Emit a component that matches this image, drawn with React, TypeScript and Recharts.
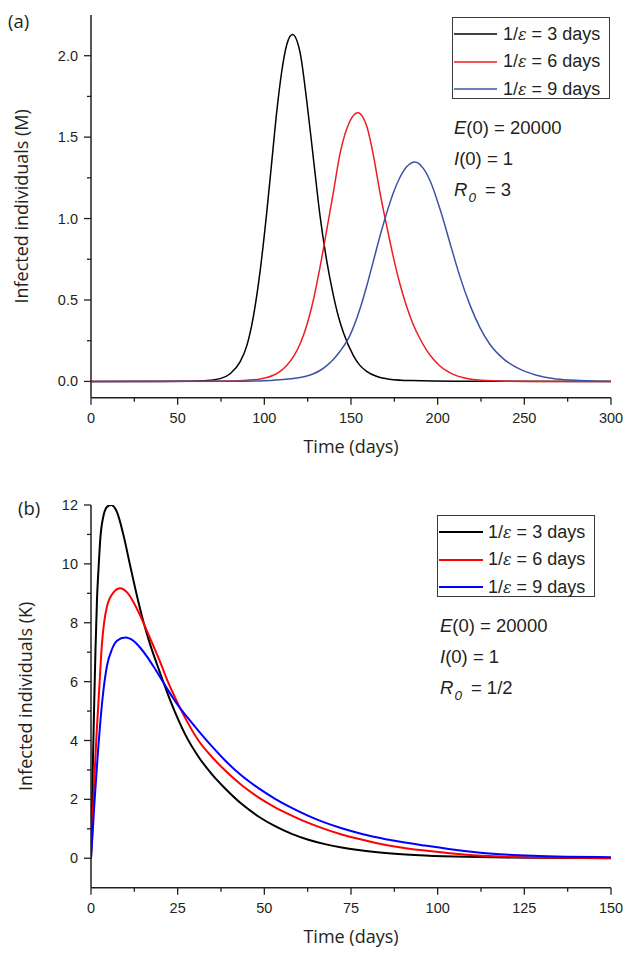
import { LineChart, Line, XAxis, YAxis } from 'recharts';

type Pt = [number, number];

// latent period 1/ε (days) for the three curves
const epsDays = [3, 6, 9];

// ---- panel (a): R0 = 3, infected in millions ----
const aXTicks = [0, 25, 50, 75, 100, 125, 150, 175, 200, 225, 250, 275, 300];
const aXMajor = [0, 50, 100, 150, 200, 250, 300];
const aYTicks = [0, 0.25, 0.5, 0.75, 1, 1.25, 1.5, 1.75, 2];
const aYMajor = [0, 0.5, 1, 1.5, 2];

const aEps3: Pt[] = [
  [0, 0], [40, 0], [55, 0.001], [62, 0.003], [67, 0.005], [74.5, 0.017], [80.3, 0.047],
  [86, 0.12], [89.9, 0.22], [93.7, 0.4], [97.6, 0.68], [101.4, 1.04], [104.3, 1.35],
  [107.2, 1.66], [110, 1.9], [113, 2.07], [116.2, 2.13], [120.6, 2.02], [124.5, 1.72],
  [128.3, 1.37], [132.1, 1.02], [136, 0.74], [139.8, 0.53], [142.7, 0.4], [145.6, 0.3],
  [151.3, 0.16], [155, 0.1], [159, 0.062], [165, 0.03], [172, 0.014], [185, 0.005],
  [210, 0.001], [300, 0],
];
const aEps6: Pt[] = [
  [0, 0], [60, 0.001], [80, 0.003], [90, 0.007], [97.6, 0.015], [101.4, 0.024], [105.2, 0.038],
  [109.1, 0.062], [112.9, 0.098], [116.8, 0.152], [120.6, 0.23], [124.5, 0.345], [128.3, 0.5],
  [132.1, 0.7], [136, 0.93], [139.8, 1.16], [143.7, 1.4], [147.5, 1.55], [150.5, 1.62],
  [153.9, 1.65], [157, 1.62], [159, 1.57], [162.9, 1.39], [166.7, 1.16], [170.6, 0.955],
  [174.4, 0.765], [178.2, 0.6], [182.1, 0.46], [185.9, 0.35], [189.8, 0.262], [193.6, 0.192],
  [197.4, 0.137], [201.3, 0.095], [205, 0.066], [209, 0.043], [215, 0.022], [225, 0.007],
  [240, 0.0015], [260, 0], [300, 0],
];
const aEps9: Pt[] = [
  [0, 0], [80, 0.001], [100, 0.004], [109.1, 0.01], [115, 0.016], [120.6, 0.024], [124.5, 0.033],
  [128.3, 0.047], [132.1, 0.067], [136, 0.097], [139.8, 0.135], [143.7, 0.185], [149.4, 0.283],
  [155.1, 0.443], [159, 0.583], [162.9, 0.739], [166.7, 0.891], [170.6, 1.035], [174.4, 1.157],
  [178.2, 1.252], [182.1, 1.318], [186.9, 1.348], [191.6, 1.31], [195.5, 1.235], [201.3, 1.06],
  [207.9, 0.82], [212.8, 0.645], [218.6, 0.47], [224.4, 0.33], [230.1, 0.228], [237.8, 0.14],
  [247.4, 0.075], [257, 0.038], [266.6, 0.018], [276.2, 0.008], [290, 0.002], [300, 0.001],
];

// ---- panel (b): R0 = 1/2, infected in thousands ----
const bXTicks = [0, 12.5, 25, 37.5, 50, 62.5, 75, 87.5, 100, 112.5, 125, 137.5, 150];
const bXMajor = [0, 25, 50, 75, 100, 125, 150];
const bYTicks = [0, 1, 2, 3, 4, 5, 6, 7, 8, 9, 10, 11, 12];
const bYMajor = [0, 2, 4, 6, 8, 10, 12];

const bEps3: Pt[] = [
  [0, 0], [0.5, 3.0], [0.95, 5.4], [1.3, 7.1], [1.73, 8.8], [2.2, 9.9], [2.68, 10.85],
  [3.63, 11.65], [4.6, 11.93], [5.76, 12.0], [7.5, 11.76], [9.4, 10.96], [11.3, 9.94],
  [13.25, 8.92], [15.2, 8.0], [17.1, 7.25], [19.0, 6.6], [20.9, 5.98], [22.8, 5.38],
  [25.2, 4.7], [27.2, 4.2], [31, 3.45], [34.9, 2.85], [38.7, 2.37], [43.5, 1.84],
  [48.3, 1.42], [53.1, 1.09], [57.9, 0.83], [62.7, 0.63], [67.5, 0.48], [72.3, 0.365],
  [77.1, 0.28], [81.9, 0.215], [86.7, 0.165], [96.3, 0.098], [108.3, 0.048], [120, 0.022],
  [135, 0.008], [150, 0.003],
];
const bEps6: Pt[] = [
  [0, 0], [0.5, 1.4], [1, 2.8], [1.6, 4.2], [2.2, 5.4], [3.17, 7.3], [4.6, 8.55], [6.5, 9.03],
  [8.44, 9.17], [10.4, 9.03], [12.3, 8.69], [14.2, 8.24], [16.1, 7.73], [18.0, 7.21],
  [20.0, 6.65], [21.9, 6.08], [23.8, 5.57], [25.7, 5.1], [27.7, 4.65], [31, 4.0], [34.9, 3.44],
  [38.7, 2.98], [43.5, 2.48], [48.3, 2.07], [53.1, 1.73], [57.9, 1.45], [62.7, 1.2],
  [67.5, 0.99], [72.3, 0.81], [77.1, 0.66], [81.9, 0.53], [86.7, 0.42], [96.3, 0.26],
  [108.3, 0.12], [117.9, 0.06], [127.5, 0.03], [137, 0.015], [150, 0.006],
];
const bEps9: Pt[] = [
  [0, 0], [0.5, 0.9], [1, 1.9], [2, 3.6], [3.3, 5.4], [4.6, 6.53], [6.05, 7.1], [7.5, 7.39],
  [9.9, 7.5], [12.3, 7.38], [14.2, 7.15], [16.1, 6.86], [18.0, 6.52], [20, 6.14], [21.9, 5.77],
  [23.8, 5.42], [25.7, 5.1], [27.7, 4.8], [31, 4.33], [34.9, 3.8], [38.7, 3.32], [43.5, 2.8],
  [48.3, 2.38], [53.1, 2.02], [57.9, 1.71], [62.7, 1.44], [67.5, 1.21], [72.3, 1.02],
  [77.1, 0.86], [81.9, 0.72], [86.7, 0.61], [96.3, 0.43], [108.3, 0.24], [117.9, 0.14],
  [127.5, 0.085], [137.1, 0.055], [150, 0.035],
];

const aColors = ['#000000', '#ee1c25', '#3b53a4'];
const bColors = ['#000000', '#ff0000', '#0000ff'];

const AXIS = '#231f20';
const TICK = 7;
const MINOR = 4;
const GAP = 6;
const NUM_FONT = '"Liberation Sans", Arial, sans-serif';
const TITLE_FONT = '"Open Sans", "Liberation Sans", sans-serif';

const toPts = (arr: Pt[]) => arr.map(([t, v]) => ({ t, v }));

function yTick(majors: number[], digits: number) {
  return (p: any) => {
    const v = p.payload.value;
    const major = majors.includes(v);
    const ax = p.x + TICK + GAP;
    return (
      <g>
        <line x1={ax - (major ? TICK : MINOR)} x2={ax} y1={p.y} y2={p.y} stroke={AXIS} strokeWidth={1.3} />
        {major && (
          <text x={p.x} y={p.y} dy="0.35em" textAnchor="end" fill="#231f20" fontSize={14.5} fontFamily={NUM_FONT}>
            {v.toFixed(digits)}
          </text>
        )}
      </g>
    );
  };
}

function xTick(majors: number[]) {
  return (p: any) => {
    const v = p.payload.value;
    const major = majors.includes(v);
    const ay = p.y - TICK - GAP;
    return (
      <g>
        <line x1={p.x} x2={p.x} y1={ay} y2={ay + (major ? TICK : MINOR)} stroke={AXIS} strokeWidth={1.3} />
        {major && (
          <text x={p.x} y={ay + 20} dy="0.35em" textAnchor="middle" fill="#231f20" fontSize={14.5} fontFamily={NUM_FONT}>
            {v}
          </text>
        )}
      </g>
    );
  };
}

interface PanelProps {
  height: number;
  top: number;
  bottom: number;
  series: Pt[][];
  colors: string[];
  strokeWidth: number;
  xDomain: [number, number];
  yDomain: [number, number];
  xTicks: number[];
  xMajor: number[];
  yTicks: number[];
  yMajor: number[];
  digits: number;
  yTitle: string;
  yTitleOffset: number;
}

function Panel(props: PanelProps) {
  return (
    <LineChart width={626} height={props.height} margin={{ top: props.top, right: 15, bottom: props.bottom, left: 21 }}>
      <XAxis
        type="number"
        dataKey="t"
        domain={props.xDomain}
        allowDataOverflow
        ticks={props.xTicks}
        interval={0}
        tickLine={false}
        tickSize={TICK}
        tickMargin={GAP}
        height={60}
        axisLine={{ stroke: AXIS, strokeWidth: 1.5 }}
        tick={xTick(props.xMajor)}
        label={{ value: 'Time (days)', position: 'insideBottom', offset: 5, fill: '#231f20', fontSize: 18, fontFamily: TITLE_FONT }}
      />
      <YAxis
        type="number"
        domain={props.yDomain}
        allowDataOverflow
        ticks={props.yTicks}
        interval={0}
        tickLine={false}
        tickSize={TICK}
        tickMargin={GAP}
        width={70}
        axisLine={{ stroke: AXIS, strokeWidth: 1.5 }}
        tick={yTick(props.yMajor, props.digits)}
        label={{
          value: props.yTitle,
          angle: -90,
          position: 'insideLeft',
          offset: props.yTitleOffset,
          fill: '#231f20',
          fontSize: 18,
          fontFamily: TITLE_FONT,
          style: { textAnchor: 'middle' },
        }}
      />
      {props.series.map((s, i) => (
        <Line
          key={i}
          data={toPts(s)}
          dataKey="v"
          type="monotone"
          stroke={props.colors[i]}
          strokeWidth={props.strokeWidth}
          dot={false}
          activeDot={false}
          isAnimationActive={false}
        />
      ))}
    </LineChart>
  );
}

function LegendBox({ left, top, width, colors, lineW, textGap, lineWidth }: any) {
  return (
    <div
      style={{
        position: 'absolute',
        left,
        top,
        width,
        height: 82,
        border: '1px solid #3a3a3a',
        boxSizing: 'border-box',
        background: '#fff',
      }}
    >
      {epsDays.map((d, i) => (
        <div
          key={d}
          style={{
            position: 'absolute',
            left: 1,
            top: 16 + i * 27.5 - 12,
            height: 24,
            display: 'flex',
            alignItems: 'center',
            whiteSpace: 'nowrap',
            fontFamily: NUM_FONT,
            fontSize: 18,
            color: '#231f20',
          }}
        >
          <svg width={lineW} height={6} style={{ display: 'block' }}>
            <line x1={0} x2={lineW} y1={3} y2={3} stroke={colors[i]} strokeWidth={lineWidth} />
          </svg>
          <span style={{ marginLeft: textGap }}>
            1/<i style={{ fontFamily: '"DejaVu Serif", serif', fontSize: 16 }}>ε</i> = {d} days
          </span>
        </div>
      ))}
    </div>
  );
}

function Notes({ left, top, r0 }: { left: number; top: number; r0: string }) {
  const row = (i: number): React.CSSProperties => ({
    position: 'absolute',
    left,
    top: top + i * 31 - 12,
    height: 24,
    lineHeight: '24px',
    whiteSpace: 'nowrap',
    fontFamily: NUM_FONT,
    fontSize: 18.5,
    color: '#231f20',
  });
  return (
    <>
      <div style={row(0)}>
        <i>E</i>(0) = 20000
      </div>
      <div style={row(1)}>
        <i>I</i>(0) = 1
      </div>
      <div style={row(2)}>
        <i>R</i>
        <i style={{ fontSize: 13.5, position: 'relative', top: 6, marginLeft: 1 }}>0</i>
        <span style={{ marginLeft: 9 }}>= {r0}</span>
      </div>
    </>
  );
}

const panelLabel = (left: number, top: number): React.CSSProperties => ({
  position: 'absolute',
  left,
  top,
  fontFamily: TITLE_FONT,
  fontSize: 18.5,
  lineHeight: '24px',
  color: '#231f20',
});

export default function App() {
  return (
    <div style={{ position: 'absolute', left: 0, top: 0, width: 626, height: 953, background: '#fff' }}>
      <div style={{ position: 'absolute', left: 0, top: 0 }}>
        <Panel
          height={470}
          top={15}
          bottom={12.3}
          series={[aEps3, aEps6, aEps9]}
          colors={aColors}
          strokeWidth={1.5}
          xDomain={[0, 300]}
          yDomain={[-0.1, 2.25]}
          xTicks={aXTicks}
          xMajor={aXMajor}
          yTicks={aYTicks}
          yMajor={aYMajor}
          digits={1}
          yTitle="Infected individuals (M)"
          yTitleOffset={1}
        />
      </div>
      <div style={{ position: 'absolute', left: 0, top: 470 }}>
        <Panel
          height={483}
          top={35}
          bottom={5.3}
          series={[bEps3, bEps6, bEps9]}
          colors={bColors}
          strokeWidth={2}
          xDomain={[0, 150]}
          yDomain={[-1, 12]}
          xTicks={bXTicks}
          xMajor={bXMajor}
          yTicks={bYTicks}
          yMajor={bYMajor}
          digits={0}
          yTitle="Infected individuals (K)"
          yTitleOffset={5}
        />
      </div>

      <div style={panelLabel(8, 9)}>(a)</div>
      <div style={panelLabel(18, 496)}>(b)</div>

      <LegendBox left={452} top={17} width={158} colors={aColors} lineW={43} textGap={6} lineWidth={1.5} />
      <LegendBox left={437} top={515} width={158} colors={bColors} lineW={44} textGap={5} lineWidth={2} />

      <Notes left={454} top={128} r0="3" />
      <Notes left={440} top={626} r0="1/2" />
    </div>
  );
}
